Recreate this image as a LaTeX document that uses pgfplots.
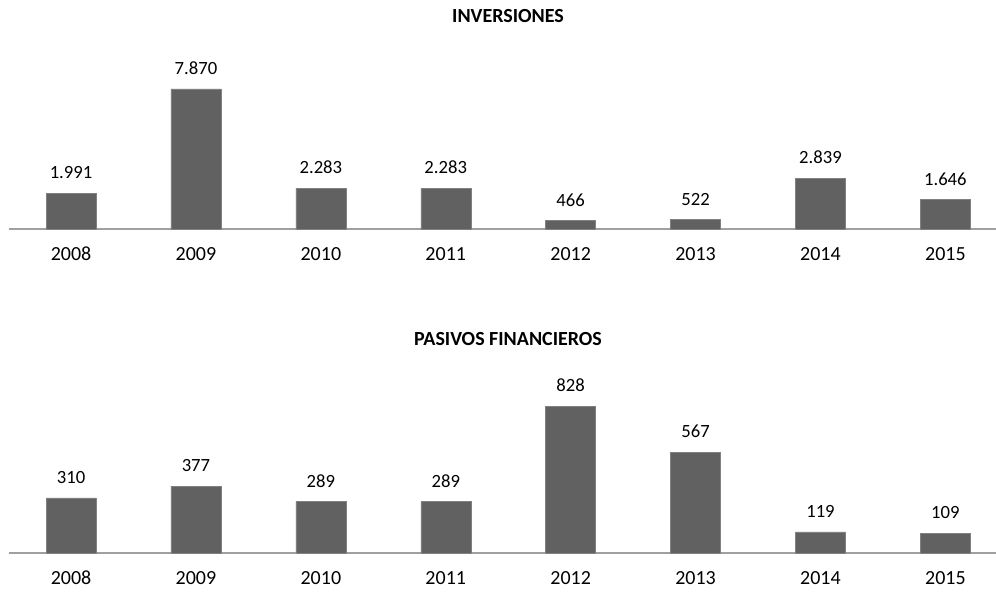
\documentclass[border=0pt]{standalone}
\usepackage{pgfplots}
\pgfplotsset{compat=1.18}
\usepackage{fontspec}
\setmainfont{Carlito}

\definecolor{barfill}{HTML}{616161}
\definecolor{axisgray}{HTML}{A0A0A0}

\pgfplotsset{
  panel/.style={
    scale only axis,
    width=741pt, height=112.5pt,
    xmin=-0.5, xmax=7.41, ymin=0,
    axis x line*=bottom, axis y line=none,
    x axis line style={axisgray, line width=1pt, -},
    xtick={0,1,2,3,4,5,6,7},
    xticklabels={2008,2009,2010,2011,2012,2013,2014,2015},
    major tick length=0pt,
    xticklabel style={font=\fontsize{15}{15}\selectfont, anchor=base, inner sep=0pt, yshift=-23.8pt},
    ybar, bar width=37.5pt,
    nodes near coords,
    every node near coord/.append style={font=\fontsize{14}{14}\selectfont, anchor=base, inner sep=0pt, yshift=11pt},
    /pgf/number format/.cd, fixed, precision=0, 1000 sep={.}, assume math mode=true,
    /pgfplots/.cd,
    clip=false,
  }
}

\begin{document}
\begin{tikzpicture}
\useasboundingbox (0,0) rectangle (747pt,444pt);

% INVERSIONES
\begin{axis}[panel, at={(6.45pt,272.25pt)}, anchor=south west, ymax=8432]
  \addplot[fill=barfill, draw=barfill!80!white, line width=0.4pt]
    coordinates {(0,1991) (1,7870) (2,2283) (3,2283) (4,466) (5,522) (6,2839) (7,1646)};
\end{axis}
\node[font=\bfseries\fontsize{15}{15}\selectfont] at (381pt,432pt) {INVERSIONES};

% PASIVOS FINANCIEROS
\begin{axis}[panel, at={(6.45pt,29.25pt)}, anchor=south west, ymax=845]
  \addplot[fill=barfill, draw=barfill!80!white, line width=0.4pt]
    coordinates {(0,310) (1,377) (2,289) (3,289) (4,828) (5,567) (6,119) (7,109)};
\end{axis}
\node[font=\bfseries\fontsize{15}{15}\selectfont] at (381pt,189.75pt) {PASIVOS FINANCIEROS};
\end{tikzpicture}
\end{document}
